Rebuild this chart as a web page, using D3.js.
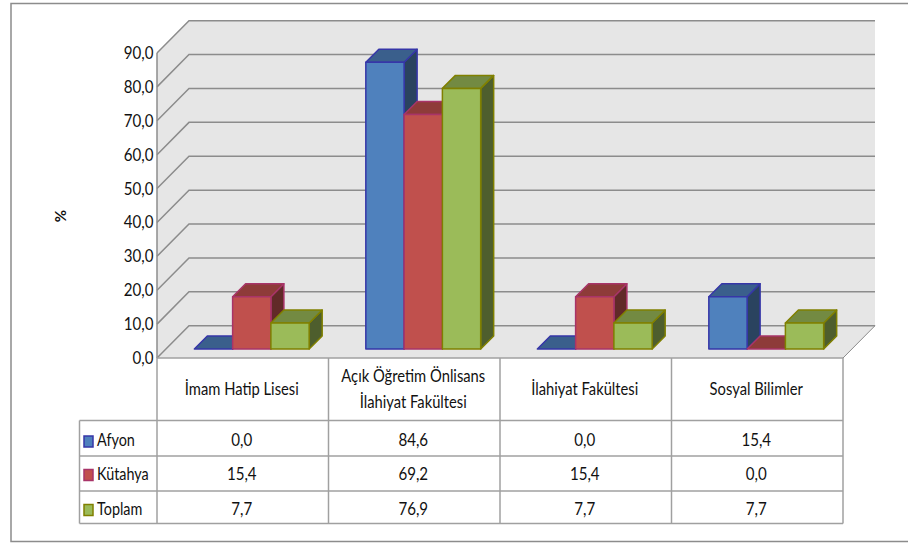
<!DOCTYPE html>
<html>
<head>
<meta charset="utf-8">
<script src="https://cdn.jsdelivr.net/npm/d3@7"></script>
<style>
  html, body { margin: 0; background: #fff; }
  text { font-family: Lato, "Open Sans", sans-serif; fill: #111; }
</style>
</head>
<body>
<div id="chart"></div>
<script>
// Data
const categories = ["İmam Hatip Lisesi", "Açık Öğretim Önlisans|İlahiyat Fakültesi", "İlahiyat Fakültesi", "Sosyal Bilimler"];
const seriesNames = ["Afyon", "Kütahya", "Toplam"];
const afyon = [0.0, 84.6, 0.0, 15.4];
const kutahya = [15.4, 69.2, 15.4, 0.0];
const toplam = [7.7, 76.9, 7.7, 7.7];
const yTicks = [0, 10, 20, 30, 40, 50, 60, 70, 80, 90];

const seriesValues = [afyon, kutahya, toplam];
const front = ["#4f81bd", "#c0504d", "#9bbb59"];
const topFace = ["#3a5f8c", "#8e3b39", "#738a42"];
const side = ["#2a435f", "#612a28", "#4e5e2d"];
const stroke = ["#3636a8", "#a83468", "#808000"];

const comma = v => v.toFixed(1).replace(".", ",");

const svg = d3.select("#chart").append("svg")
    .attr("width", 908)
    .attr("height", 543)
    .style("display", "block");

// Text is squeezed sideways to look like the condensed font in the reference
function label(x, y, str, anchor, size, squeeze = 0.84) {
    return svg.append("text")
        .attr("transform", `translate(${x},${y}) scale(${squeeze},1)`)
        .attr("text-anchor", anchor)
        .attr("dominant-baseline", "middle")
        .style("font-size", size + "px")
        .text(str);
}

// Outer chart frame (open on the right, it runs off the picture)
svg.append("path")
    .attr("d", "M908,3.5 L11,3.5 L11,541.5 L908,541.5")
    .attr("fill", "none").attr("stroke", "#8c8c8c").attr("stroke-width", 1.5);

// Scales
const xCat = d3.scaleBand().domain(d3.range(categories.length)).range([157, 843]);
const xBar = d3.scaleBand().domain(d3.range(seriesNames.length))
    .range([0, xCat.bandwidth()]).paddingOuter(0.74).paddingInner(0);
const yScale = d3.scaleLinear().domain([0, 90]).range([358, 53]);
const dx = 32, dy = 32.3; // depth of the 3D box

const grid = "#8c8c8c";

// Back wall and floor
svg.append("path")
    .attr("d", `M157,${yScale(0)} L157,${yScale(90)} L${157 + dx},${yScale(90) - dy} L${843 + dx},${yScale(90) - dy} L${843 + dx},${yScale(0) - dy} L843,${yScale(0)} Z`)
    .attr("fill", "#e6e6e6");

// Gridlines on the side and back walls
yTicks.forEach(t => {
    svg.append("path")
        .attr("d", `M157,${yScale(t)} L${157 + dx},${yScale(t) - dy} L${843 + dx},${yScale(t) - dy}`)
        .attr("fill", "none").attr("stroke", grid).attr("stroke-width", 1.5);
});
svg.append("line")
    .attr("x1", 843).attr("y1", yScale(0)).attr("x2", 843 + dx).attr("y2", yScale(0) - dy)
    .attr("stroke", grid).attr("stroke-width", 1);

// Left axis
svg.append("line")
    .attr("x1", 157).attr("x2", 157).attr("y1", yScale(90)).attr("y2", yScale(0))
    .attr("stroke", grid).attr("stroke-width", 1.5);
yTicks.forEach(t => label(153.5, yScale(t) + 1.5, comma(t), "end", 18));

svg.append("text")
    .attr("transform", "translate(62,216) rotate(-90)")
    .attr("text-anchor", "middle").attr("dominant-baseline", "middle")
    .style("font-size", "15px").style("font-weight", "bold")
    .text("%");

// Bars, drawn series by series so that later bars overlap earlier ones
const barDepth = 13, barInset = 9;
categories.forEach((c, ci) => {
    seriesValues.forEach((vals, si) => {
        const v = vals[ci];
        const x0 = xCat(ci) + xBar(si) + barInset;
        const w = xBar.bandwidth();
        const yBase = yScale(0) - barInset;
        const yTop = yScale(v) - barInset;
        const g = svg.append("g").attr("stroke", stroke[si]).attr("stroke-width", 1.5).attr("stroke-linejoin", "round");
        g.append("path")
            .attr("d", `M${x0 + w},${yBase} L${x0 + w + barDepth},${yBase - barDepth} L${x0 + w + barDepth},${yTop - barDepth} L${x0 + w},${yTop} Z`)
            .attr("fill", side[si]);
        g.append("path")
            .attr("d", `M${x0},${yTop} L${x0 + barDepth},${yTop - barDepth} L${x0 + w + barDepth},${yTop - barDepth} L${x0 + w},${yTop} Z`)
            .attr("fill", topFace[si]);
        g.append("rect")
            .attr("x", x0).attr("y", yTop).attr("width", w).attr("height", yBase - yTop)
            .attr("fill", front[si]);
    });
});

// Data table
const rowLines = [358, 420.5, 456, 491, 523.5];
const rowText = [441.5, 475, 510]; // text sits a little low in each row
const tableLeft = 79.5;
const line = (x1, y1, x2, y2) => svg.append("line")
    .attr("x1", x1).attr("y1", y1).attr("x2", x2).attr("y2", y2)
    .attr("stroke", "#a0a0a0").attr("stroke-width", 1.5);

rowLines.slice(1).forEach(y => line(tableLeft, y, 843, y));
line(tableLeft, rowLines[1], tableLeft, rowLines[4]);
d3.range(categories.length + 1).forEach(i => {
    const x = i < categories.length ? xCat(i) : 843;
    line(x, 358, x, rowLines[4]);
});
line(157, 358, 843, 358);

categories.forEach((c, ci) => {
    const cx = xCat(ci) + xCat.bandwidth() / 2 - 1;
    const parts = c.split("|");
    parts.forEach((p, pi) => {
        label(cx, 390 + (pi - (parts.length - 1) / 2) * 26, p, "middle", 18, 0.82);
    });
    seriesValues.forEach((vals, si) => {
        label(cx, rowText[si], comma(vals[ci]), "middle", 18);
    });
});

// Legend keys in the first table column
seriesNames.forEach((name, si) => {
    const cy = rowText[si];
    svg.append("rect")
        .attr("x", 84).attr("y", cy - 5.5).attr("width", 9).attr("height", 11)
        .attr("fill", front[si]).attr("stroke", stroke[si]).attr("stroke-width", 1.5);
    label(97, cy, name, "start", 18, 0.8);
});
</script>
</body>
</html>
